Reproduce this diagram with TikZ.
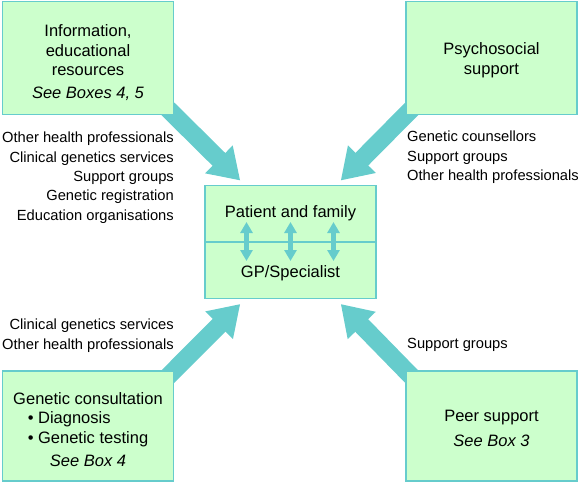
\documentclass[tikz,border=0pt]{standalone}
\usepackage{fontspec}
\setmainfont{Liberation Sans}
\usepackage{xcolor}
\usepackage{tikz}
\usetikzlibrary{arrows.meta, positioning, calc, backgrounds}
\definecolor{boxgreen}{RGB}{204,255,204}
\definecolor{teal}{RGB}{102,204,204}

\begin{document}
\begin{tikzpicture}[
    x=1pt, y=-1pt,
    box/.style={rectangle, draw=teal, line width=1.5pt, fill=boxgreen, minimum width=171pt, minimum height=113pt, align=center, font=\fontsize{16.5}{19.5}\selectfont, inner sep=0pt},
    mid/.style={rectangle, draw=teal, line width=1.5pt, fill=boxgreen, minimum width=171pt, minimum height=56.5pt, font=\fontsize{16.5}{19.5}\selectfont, inner sep=0pt},
    side/.style={font=\fontsize{14.7}{19.3}\selectfont, inner sep=0pt},
    arr/.style={-{Triangle[length=30pt, width=37pt]}, line width=18pt, draw=teal},
    dbl/.style={{Triangle[length=11pt, width=12pt]}-{Triangle[length=11pt, width=12pt]}, line width=4.5pt, draw=teal},
]
    \useasboundingbox (0,0) rectangle (580,483);
    % boxes
    \node[box] (info) at (88,58) {\rule{0pt}{22pt}Information,\\educational\\resources\\[3.5pt]\textit{See Boxes 4, 5}};
    \node[box] (psy) at (491.5,58) {\rule{0pt}{16pt}Psychosocial\\support};
    \node[box, minimum height=110pt] (cons) at (88,426) {\rule{0pt}{19pt}Genetic consultation\\
        \makebox[9.1em][l]{\hspace{0.9em}\textbullet\ Diagnosis}\\
        \makebox[9.1em][l]{\hspace{0.9em}\textbullet\ Genetic testing}\\[4pt]
        \textit{See Box 4}};
    \node[box, minimum height=110pt] (peer) at (491.5,426) {\rule{0pt}{16pt}Peer support\\[6pt]\textit{See Box 3}};
    \node[mid] (pf) at (290.5,213.5) {Patient and family\rule[-4pt]{0pt}{4pt}};
    \node[mid] (gp) at (290.5,270) {\rule{0pt}{18pt}GP/Specialist};
    % side lists
    \node[side, align=right, anchor=north east] (infol) at (174,132) {Other health professionals\\Clinical genetics services\\Support groups\\Genetic registration\\Education organisations};
    \node[side, align=left, anchor=north west] (psyl) at (407,131) {Genetic counsellors\\Support groups\\Other health professionals};
    \node[side, align=right, anchor=north east] (consl) at (174,319) {Clinical genetics services\\Other health professionals};
    \node[side, align=left, anchor=north west] (peerl) at (407,338) {Support groups};
    % big arrows
    \begin{scope}[on background layer]
    \draw[arr] ([shift={(-8pt,8pt)}]info.south east) -- ([shift={(36pt,4pt)}]pf.north west);
    \draw[arr] ([shift={(8pt,8pt)}]psy.south west) -- ([shift={(-36pt,4pt)}]pf.north east);
    \draw[arr] ([shift={(-8pt,-8pt)}]cons.north east) -- ([shift={(36pt,-5pt)}]gp.south west);
    \draw[arr] ([shift={(8pt,-8pt)}]peer.north west) -- ([shift={(-36pt,-5pt)}]gp.south east);
    \end{scope}
    % small double arrows
    \foreach \dx in {-44,0,43}
        \draw[dbl] ([shift={(\dx pt,19pt)}]gp.north) -- ([shift={(\dx pt,-20pt)}]gp.north);
\end{tikzpicture}
\end{document}
